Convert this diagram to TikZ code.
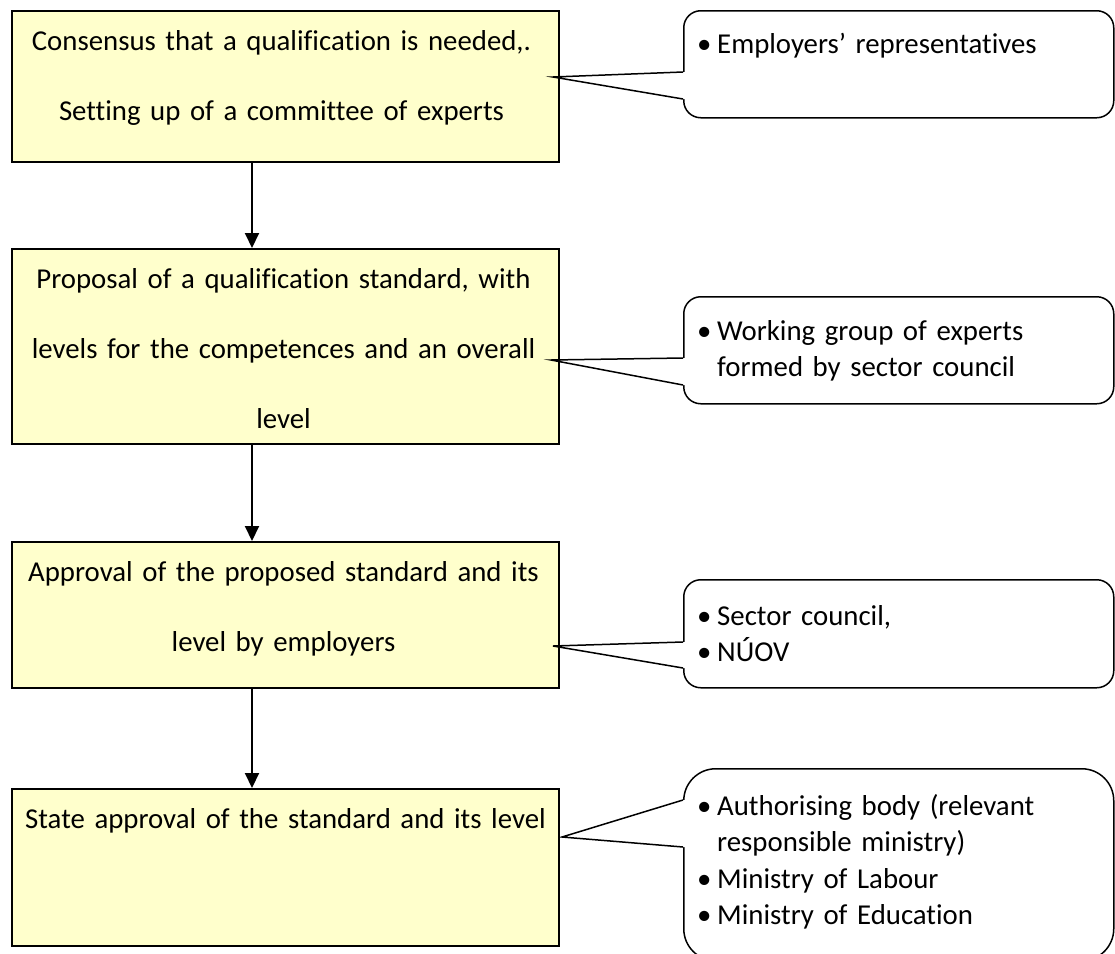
\documentclass[tikz,border=0pt]{standalone}
\usepackage{fontspec}
\setmainfont{Carlito}[Ligatures=NoCommon]
\usepackage{tikz}
\usetikzlibrary{positioning,calc,arrows.meta}
\definecolor{boxyellow}{RGB}{255,255,204}
\newcommand{\blt}{\makebox[20pt][l]{\textbullet}}

\begin{document}
\begin{tikzpicture}[
	x=1pt, y=-1pt,
	stage/.style={
		draw=black, line width=2pt, fill=boxyellow,
		minimum width=547pt, anchor=north west, inner sep=0pt
	},
	stagetext/.style={
		anchor=base, inner sep=0pt, text width=545pt, align=center,
		font=\fontsize{28.8}{70}\selectfont
	},
	bubble/.style={
		draw=black, line width=1.5pt, fill=white,
		rounded corners=17pt, minimum width=430pt,
		anchor=north west, inner sep=0pt
	},
	bubbletext/.style={
		anchor=base west, inner sep=0pt, text width=400pt, align=left,
		font=\fontsize{28.8}{36.5}\selectfont
	},
	pointer/.style={draw=black, line width=1.5pt},
	flow/.style={line width=2pt, -{Triangle[width=14pt,length=15pt]}}
	]
	\useasboundingbox (0,0) rectangle (1115,953);
	
	% the four steps
	\node[stage, minimum height=151pt] (b1) at (11,10)  {};
	\node[stage, minimum height=195pt] (b2) at (11,248) {};
	\node[stage, minimum height=146pt] (b3) at (11,541) {};
	\node[stage, minimum height=157pt] (b4) at (11,788) {};
	
	\node[stagetext] (t1) at ($(b1.north)+(-4,40)$) {Consensus that a qualification is needed,.\\Setting up of a committee of experts};
	\node[stagetext] (t2) at ($(b2.north)+(-2,40)$) {Proposal of a qualification standard, with\\levels for the competences and an overall\\level};
	\node[stagetext] (t3) at ($(b3.north)+(-2,40)$) {Approval of the proposed standard and its\\level by employers};
	\node[stagetext] (t4) at ($(b4.north)+(0,40)$) {State approval of the standard and its level};
	
	% arrows, a bit left of the middle
	\coordinate (axis) at (252,0);
	\draw[flow] (b1.south -| axis) -- (b2.north -| axis);
	\draw[flow] (b2.south -| axis) -- (b3.north -| axis);
	\draw[flow] (b3.south -| axis) -- (b4.north -| axis);
	
	% who takes part
	\node[bubble, minimum height=107pt] (c1) at (683,10)  {};
	\node[bubble, minimum height=107pt] (c2) at (683,296) {};
	\node[bubble, minimum height=108pt] (c3) at (683,579) {};
	\node[bubble, minimum height=192pt, rounded corners=32pt] (c4) at (683,768) {};
	
	\node[bubbletext] (u1) at ($(c1.north west)+(14,43)$) {\blt Employers’ representatives};
	\node[bubbletext] (u2) at ($(c2.north west)+(14,44)$) {\blt Working group of experts\\\hspace*{20pt}formed by sector council};
	\node[bubbletext] (u3) at ($(c3.north west)+(14,46)$) {\blt Sector council,\\\blt NÚOV};
	\node[bubbletext] (u4) at ($(c4.north west)+(14,47)$) {\blt Authorising body (relevant\\\hspace*{20pt}responsible ministry)\\\blt Ministry of Labour\\\blt Ministry of Education};
	
	% pointers of the callouts
	\coordinate (p1) at (553,77);
	\coordinate (p2) at (551,360);
	\coordinate (p3) at (553,646);
	\coordinate (p4) at (562,837);
	\coordinate (a1) at ($(c1.north west)+(0,62)$);
	\coordinate (z1) at ($(c1.north west)+(0,89)$);
	\coordinate (a2) at ($(c2.north west)+(0,62)$);
	\coordinate (z2) at ($(c2.north west)+(0,89)$);
	\coordinate (a3) at ($(c3.north west)+(0,63)$);
	\coordinate (z3) at ($(c3.north west)+(0,89)$);
	\coordinate (a4) at ($(c4.north west)+(0,32)$);
	\coordinate (z4) at ($(c4.north west)+(0,79)$);
	
	\fill[white] (a1) -- (p1) -- (z1) -- ($(z1)+(3,0)$) -- ($(a1)+(3,0)$) -- cycle;
	\draw[pointer] (a1) -- (p1) -- (z1);
	\fill[white] (a2) -- (p2) -- (z2) -- ($(z2)+(3,0)$) -- ($(a2)+(3,0)$) -- cycle;
	\draw[pointer] (a2) -- (p2) -- (z2);
	\fill[white] (a3) -- (p3) -- (z3) -- ($(z3)+(3,0)$) -- ($(a3)+(3,0)$) -- cycle;
	\draw[pointer] (a3) -- (p3) -- (z3);
	\fill[white] (a4) -- (p4) -- (z4) -- ($(z4)+(3,0)$) -- ($(a4)+(3,0)$) -- cycle;
	\draw[pointer] (a4) -- (p4) -- (z4);
\end{tikzpicture}
\end{document}
